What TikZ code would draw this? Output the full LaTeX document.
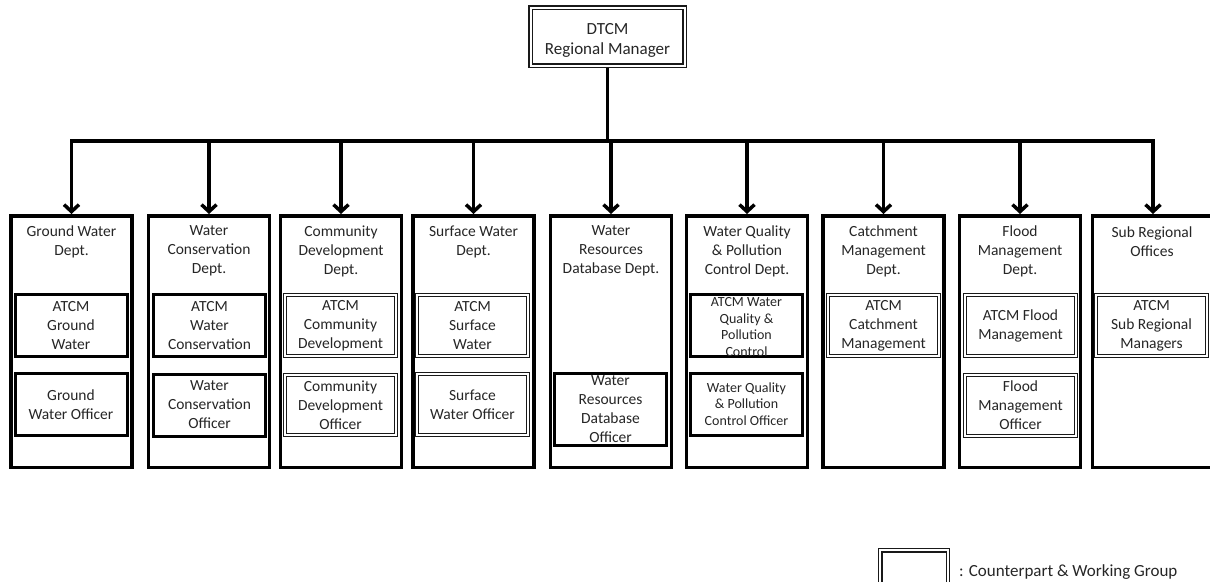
\documentclass[tikz,border=0pt]{standalone}
\usepackage{fontspec}
\setmainfont{Carlito}
\usetikzlibrary{arrows.meta,shadows}
\begin{document}
\begin{tikzpicture}[x=1pt,y=-1pt,
  txt/.style={font=\fontsize{15.5}{19}\selectfont, text=black!85, align=center, inner sep=0pt},
  smalltxt/.style={font=\fontsize{14}{16.8}\selectfont, text=black!85, align=center, inner sep=0pt},
  toptxt/.style={font=\fontsize{17}{19.5}\selectfont, text=black!85, align=center, inner sep=0pt},
  keytxt/.style={font=\fontsize{17}{20}\selectfont, text=black!85, inner sep=0pt},
  deptbox/.style={draw=black, line width=3.5pt, fill=white, minimum width=121pt, minimum height=251.5pt, inner sep=0pt},
  solobox/.style={draw=black, line width=3pt, fill=white, minimum width=112pt, minimum height=62pt, inner sep=0pt},
  wgbox/.style={draw=black!90, line width=1.2pt, double=white, double distance=2pt, fill=white,
    minimum width=110.6pt, minimum height=60.5pt, inner sep=0pt,
    drop shadow={shadow xshift=1.2pt, shadow yshift=-1.2pt, opacity=.3}},
  conn/.style={line width=3.5pt, draw=black},
  feed/.style={conn, -{Straight Barb[length=7pt,width=15pt]}},
]
\clip (0,0) rectangle (1210,581);

% head of the organisation
\node[wgbox, minimum width=154pt, minimum height=58pt] (top) at (607.5,36.5) {};
\node[toptxt] (toplbl) at (607.5,40.5) {DTCM\\Regional Manager};

% departments
\node[deptbox] (d1) at (71.5,341.5) {};
\node[deptbox] (d2) at (209,341.5) {};
\node[deptbox] (d3) at (341,341.5) {};
\node[deptbox] (d4) at (473.5,341.5) {};
\node[deptbox] (d5) at (611,341.5) {};
\node[deptbox] (d6) at (747,341.5) {};
\node[deptbox] (d7) at (883.5,341.5) {};
\node[deptbox] (d8) at (1020,341.5) {};
\node[deptbox] (d9) at (1153,341.5) {};

\node[txt] (t1) at (71.5,241.5) {Ground Water\\Dept.};
\node[txt] (t2) at (209,251) {Water\\Conservation\\Dept.};
\node[txt] (t3) at (341,251) {Community\\Development\\Dept.};
\node[txt] (t4) at (473.5,241.5) {Surface Water\\Dept.};
\node[txt] (t5) at (611,251) {Water\\Resources\\Database Dept.};
\node[txt] (t6) at (747,251) {Water Quality\\\& Pollution\\Control Dept.};
\node[txt] (t7) at (883.5,251) {Catchment\\Management\\Dept.};
\node[txt] (t8) at (1020,251) {Flood\\Management\\Dept.};
\node[txt] (t9) at (1152,241.5) {Sub Regional\\Offices};

% staff positions inside the departments
\node[solobox] (a1) at (71,325.5) {};
\node[txt] (la1) at (a1.center) {ATCM\\Ground\\Water};
\node[solobox] (o1) at (71,404.5) {};
\node[txt] (lo1) at (o1.center) {Ground\\Water Officer};

\node[solobox] (a2) at (209.5,325.5) {};
\node[txt] (la2) at (a2.center) {ATCM\\Water\\Conservation};
\node[solobox] (o2) at (209.5,405) {};
\node[txt] (lo2) at (o2.center) {Water\\Conservation\\Officer};

\node[wgbox] (a3) at (340.5,325.5) {};
\node[txt] (la3) at (a3.center) {ATCM\\Community\\Development};
\node[wgbox] (o3) at (340.5,405) {};
\node[txt] (lo3) at (o3.center) {Community\\Development\\Officer};

\node[wgbox] (a4) at (472.5,325.5) {};
\node[txt] (la4) at (a4.center) {ATCM\\Surface\\Water};
\node[wgbox] (o4) at (472.5,404.5) {};
\node[txt] (lo4) at (o4.center) {Surface\\Water Officer};

\node[solobox, minimum height=72pt] (o5) at (610.5,409.5) {};
\node[txt] (lo5) at (o5.center) {Water\\Resources\\Database\\Officer};

\node[solobox] (a6) at (746.5,325) {};
\node[smalltxt] (la6) at (746.5,327) {ATCM Water\\Quality \&\\Pollution\\Control};
\node[solobox] (o6) at (746.5,404) {};
\node[smalltxt] (lo6) at (o6.center) {Water Quality\\\& Pollution\\Control Officer};

\node[wgbox] (a7) at (883.5,325.5) {};
\node[txt] (la7) at (a7.center) {ATCM\\Catchment\\Management};

\node[wgbox] (a8) at (1020.5,325.5) {};
\node[txt] (la8) at (a8.center) {ATCM Flood\\Management};
\node[wgbox] (o8) at (1020.5,405.5) {};
\node[txt] (lo8) at (o8.center) {Flood\\Management\\Officer};

\node[wgbox] (a9) at (1151.5,325.5) {};
\node[txt] (la9) at (a9.center) {ATCM\\Sub Regional\\Managers};

% reporting lines
\coordinate (barlevel) at (0,141);
\coordinate (hub) at (top.south |- barlevel);
\draw[conn, shorten <=1.7pt] (top.south) -- (hub);
\foreach \d in {d1,d2,d3,d4,d5,d6,d7,d8,d9}
  \draw[feed] (hub) -| (\d.north);

% key
\node[wgbox, minimum width=67.4pt, minimum height=40pt] (key) at (914,570.3) {};
\node[keytxt, anchor=base west] (keylbl) at (959,576.5) {: Counterpart \& Working Group};
\end{tikzpicture}
\end{document}
